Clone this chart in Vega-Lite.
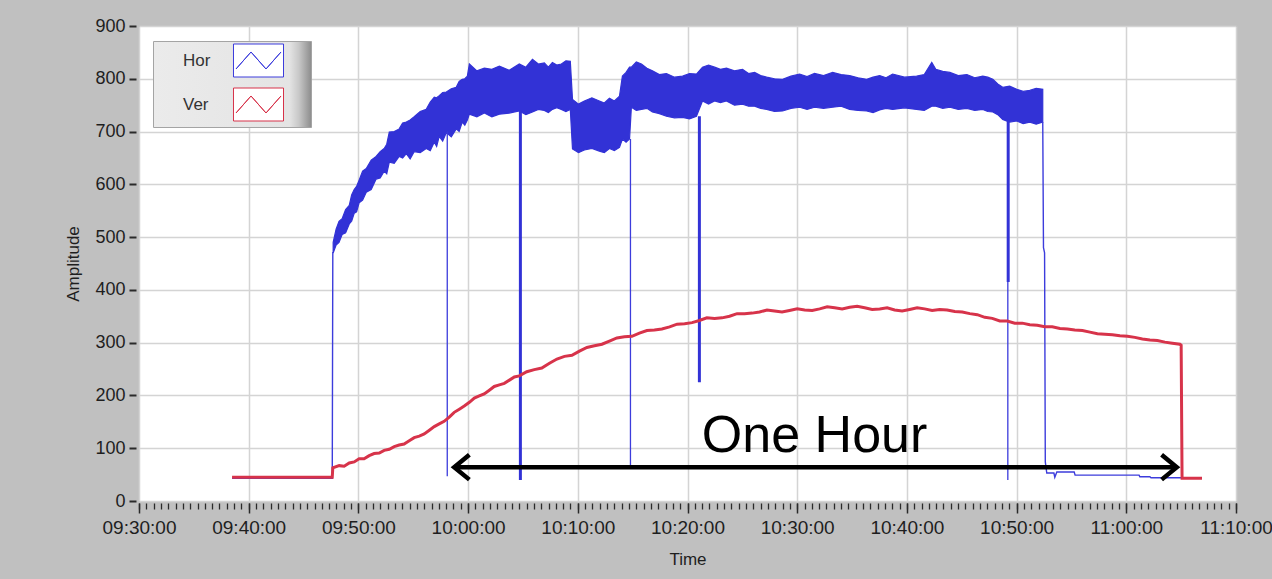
{
  "$schema": "https://vega.github.io/schema/vega-lite/v6.json",
  "width": 1097,
  "height": 475,
  "autosize": "none",
  "padding": {"left": 139, "top": 26, "right": 36, "bottom": 78},
  "background": "#c0c0c0",
  "config": {
    "font": "Liberation Sans",
    "view": {"fill": "white", "stroke": "#8a8a8a", "strokeWidth": 1},
    "axis": {
      "labelFont": "Liberation Sans",
      "titleFont": "Liberation Sans",
      "labelColor": "#1e1e1e",
      "titleColor": "#1e1e1e",
      "tickColor": "#2a2a2a",
      "titleFontWeight": "normal",
      "gridColor": "#d4d4d4",
      "gridWidth": 1.5,
      "domain": false
    },
    "legend": {"labelFont": "Liberation Sans"}
  },
  "resolve": {"axis": {"x": "independent"}},
  "layer": [
    {
      "data": {
        "values": [
          {"t": "09:47:42", "lo": 470, "hi": 490},
          {"t": "09:47:58", "lo": 485, "hi": 515},
          {"t": "09:48:14", "lo": 490, "hi": 530},
          {"t": "09:48:31", "lo": 505, "hi": 535},
          {"t": "09:48:50", "lo": 508, "hi": 552},
          {"t": "09:49:10", "lo": 525, "hi": 560},
          {"t": "09:49:23", "lo": 530, "hi": 580},
          {"t": "09:49:37", "lo": 545, "hi": 590},
          {"t": "09:49:50", "lo": 548, "hi": 596},
          {"t": "09:50:04", "lo": 565, "hi": 608},
          {"t": "09:50:23", "lo": 570, "hi": 625},
          {"t": "09:50:43", "lo": 585, "hi": 630},
          {"t": "09:51:10", "lo": 590, "hi": 646},
          {"t": "09:51:37", "lo": 610, "hi": 653},
          {"t": "09:51:59", "lo": 612, "hi": 662},
          {"t": "09:52:21", "lo": 625, "hi": 668},
          {"t": "09:52:35", "lo": 620, "hi": 676},
          {"t": "09:52:49", "lo": 642, "hi": 699},
          {"t": "09:53:16", "lo": 640, "hi": 700},
          {"t": "09:53:43", "lo": 653, "hi": 705},
          {"t": "09:54:02", "lo": 650, "hi": 716},
          {"t": "09:54:22", "lo": 658, "hi": 718},
          {"t": "09:54:43", "lo": 648, "hi": 722},
          {"t": "09:55:05", "lo": 662, "hi": 728},
          {"t": "09:55:38", "lo": 660, "hi": 738},
          {"t": "09:56:11", "lo": 668, "hi": 742},
          {"t": "09:56:33", "lo": 664, "hi": 756},
          {"t": "09:56:55", "lo": 680, "hi": 765},
          {"t": "09:57:08", "lo": 672, "hi": 764},
          {"t": "09:57:22", "lo": 691, "hi": 768},
          {"t": "09:57:41", "lo": 682, "hi": 774},
          {"t": "09:58:01", "lo": 698, "hi": 775},
          {"t": "09:58:28", "lo": 690, "hi": 781},
          {"t": "09:58:55", "lo": 705, "hi": 784},
          {"t": "09:59:11", "lo": 700, "hi": 795},
          {"t": "09:59:28", "lo": 718, "hi": 799},
          {"t": "09:59:42", "lo": 712, "hi": 800},
          {"t": "09:59:56", "lo": 722, "hi": 805},
          {"t": "10:00:07", "lo": 733, "hi": 828},
          {"t": "10:00:48", "lo": 728, "hi": 815},
          {"t": "10:01:29", "lo": 735, "hi": 820},
          {"t": "10:02:10", "lo": 728, "hi": 818},
          {"t": "10:02:51", "lo": 733, "hi": 824},
          {"t": "10:03:45", "lo": 735, "hi": 816},
          {"t": "10:04:40", "lo": 739, "hi": 828},
          {"t": "10:05:16", "lo": 732, "hi": 822},
          {"t": "10:05:52", "lo": 737, "hi": 837},
          {"t": "10:06:24", "lo": 742, "hi": 828},
          {"t": "10:06:57", "lo": 740, "hi": 830},
          {"t": "10:07:19", "lo": 736, "hi": 822},
          {"t": "10:07:41", "lo": 742, "hi": 831},
          {"t": "10:08:05", "lo": 745, "hi": 826},
          {"t": "10:08:30", "lo": 742, "hi": 828},
          {"t": "10:08:55", "lo": 738, "hi": 834},
          {"t": "10:09:19", "lo": 742, "hi": 833},
          {"t": "10:09:31", "lo": 667, "hi": 761},
          {"t": "10:10:04", "lo": 660, "hi": 752},
          {"t": "10:10:36", "lo": 665, "hi": 758},
          {"t": "10:11:17", "lo": 668, "hi": 764},
          {"t": "10:11:58", "lo": 663, "hi": 758},
          {"t": "10:12:25", "lo": 660, "hi": 754},
          {"t": "10:12:53", "lo": 668, "hi": 763},
          {"t": "10:13:20", "lo": 664, "hi": 758},
          {"t": "10:13:48", "lo": 670, "hi": 767},
          {"t": "10:14:04", "lo": 686, "hi": 805},
          {"t": "10:14:24", "lo": 680, "hi": 812},
          {"t": "10:14:43", "lo": 686, "hi": 822},
          {"t": "10:14:53", "lo": 746, "hi": 822},
          {"t": "10:15:20", "lo": 740, "hi": 832},
          {"t": "10:15:48", "lo": 742, "hi": 828},
          {"t": "10:16:18", "lo": 744, "hi": 820},
          {"t": "10:16:48", "lo": 737, "hi": 815},
          {"t": "10:17:26", "lo": 734, "hi": 808},
          {"t": "10:18:05", "lo": 729, "hi": 810},
          {"t": "10:18:49", "lo": 726, "hi": 803},
          {"t": "10:19:33", "lo": 727, "hi": 805},
          {"t": "10:20:11", "lo": 724, "hi": 810},
          {"t": "10:20:49", "lo": 729, "hi": 809},
          {"t": "10:21:22", "lo": 758, "hi": 822},
          {"t": "10:21:55", "lo": 752, "hi": 826},
          {"t": "10:22:28", "lo": 758, "hi": 822},
          {"t": "10:23:00", "lo": 755, "hi": 818},
          {"t": "10:23:33", "lo": 758, "hi": 820},
          {"t": "10:24:17", "lo": 750, "hi": 815},
          {"t": "10:25:01", "lo": 752, "hi": 818},
          {"t": "10:25:34", "lo": 748, "hi": 810},
          {"t": "10:26:07", "lo": 748, "hi": 812},
          {"t": "10:26:40", "lo": 744, "hi": 806},
          {"t": "10:27:13", "lo": 742, "hi": 803},
          {"t": "10:27:56", "lo": 738, "hi": 800},
          {"t": "10:28:40", "lo": 739, "hi": 799},
          {"t": "10:29:26", "lo": 744, "hi": 805},
          {"t": "10:30:13", "lo": 746, "hi": 809},
          {"t": "10:30:54", "lo": 742, "hi": 804},
          {"t": "10:31:35", "lo": 746, "hi": 810},
          {"t": "10:32:24", "lo": 744, "hi": 806},
          {"t": "10:33:14", "lo": 746, "hi": 812},
          {"t": "10:34:00", "lo": 748, "hi": 808},
          {"t": "10:34:47", "lo": 742, "hi": 806},
          {"t": "10:35:33", "lo": 740, "hi": 802},
          {"t": "10:36:20", "lo": 739, "hi": 799},
          {"t": "10:36:55", "lo": 736, "hi": 803},
          {"t": "10:37:31", "lo": 741, "hi": 806},
          {"t": "10:38:06", "lo": 744, "hi": 802},
          {"t": "10:38:42", "lo": 742, "hi": 809},
          {"t": "10:39:47", "lo": 745, "hi": 803},
          {"t": "10:40:53", "lo": 742, "hi": 805},
          {"t": "10:41:35", "lo": 740, "hi": 808},
          {"t": "10:42:16", "lo": 748, "hi": 831},
          {"t": "10:42:38", "lo": 748, "hi": 818},
          {"t": "10:43:16", "lo": 744, "hi": 814},
          {"t": "10:43:55", "lo": 746, "hi": 812},
          {"t": "10:44:41", "lo": 742, "hi": 806},
          {"t": "10:45:28", "lo": 744, "hi": 808},
          {"t": "10:46:11", "lo": 740, "hi": 802},
          {"t": "10:46:55", "lo": 742, "hi": 805},
          {"t": "10:47:22", "lo": 738, "hi": 803},
          {"t": "10:47:50", "lo": 737, "hi": 799},
          {"t": "10:48:17", "lo": 732, "hi": 790},
          {"t": "10:48:44", "lo": 723, "hi": 784},
          {"t": "10:49:22", "lo": 718, "hi": 786},
          {"t": "10:50:01", "lo": 720, "hi": 780},
          {"t": "10:50:36", "lo": 715, "hi": 776},
          {"t": "10:51:12", "lo": 718, "hi": 778},
          {"t": "10:51:47", "lo": 714, "hi": 782},
          {"t": "10:52:23", "lo": 718, "hi": 780}
        ],
        "format": {"parse": {"t": "utc:'%H:%M:%S'"}}
      },
      "mark": {"type": "area", "color": "#3232d6", "stroke": "#3232d6", "strokeWidth": 1.2},
      "encoding": {
        "x": {
          "field": "t", "type": "temporal",
          "scale": {"type": "utc", "domain": [-2208954600000, -2208948600000], "nice": false},
          "axis": {
            "orient": "bottom",
            "values": [-2208954600000, -2208954000000, -2208953400000, -2208952800000, -2208952200000, -2208951600000, -2208951000000, -2208950400000, -2208949800000, -2208949200000, -2208948600000],
            "format": "%H:%M:%S",
            "grid": true,
            "offset": 2,
            "tickSize": 10,
            "tickWidth": 1.5,
            "labelFontSize": 19,
            "labelPadding": 5,
            "labelFlush": false,
            "labelOverlap": false,
            "title": "Time",
            "titleFontSize": 17,
            "titlePadding": 14
          }
        },
        "y": {
          "field": "lo", "type": "quantitative",
          "scale": {"domain": [0, 900], "nice": false},
          "axis": {
            "values": [0, 100, 200, 300, 400, 500, 600, 700, 800, 900],
            "grid": true,
            "offset": 3,
            "tickSize": 7,
            "tickWidth": 2,
            "labelFontSize": 18,
            "labelPadding": 4,
            "labelFlush": false,
            "title": "Amplitude",
            "titleFontSize": 17,
            "titlePadding": 12
          }
        },
        "y2": {"field": "hi"}
      }
    },
    {
      "data": {
        "values": [
          {"t": "09:58:06", "from": 700, "to": 47},
          {"t": "10:14:48", "from": 686, "to": 66},
          {"t": "10:49:12", "from": 720, "to": 40}
        ],
        "format": {"parse": {"t": "utc:'%H:%M:%S'"}}
      },
      "mark": {"type": "rule", "color": "#3c3cdc", "strokeWidth": 1.3},
      "encoding": {
        "x": {"field": "t", "type": "temporal", "axis": null},
        "y": {"field": "from", "type": "quantitative"},
        "y2": {"field": "to"}
      }
    },
    {
      "data": {
        "values": [
          {"t": "10:04:46", "from": 740, "to": 40},
          {"t": "10:21:05", "from": 729, "to": 225},
          {"t": "10:49:14", "from": 720, "to": 415}
        ],
        "format": {"parse": {"t": "utc:'%H:%M:%S'"}}
      },
      "mark": {"type": "rule", "color": "#3232d6", "strokeWidth": 3},
      "encoding": {
        "x": {"field": "t", "type": "temporal", "axis": null},
        "y": {"field": "from", "type": "quantitative"},
        "y2": {"field": "to"}
      }
    },
    {
      "data": {
        "values": [
          {"seg": "a", "t": "09:38:29", "v": 43},
          {"seg": "a", "t": "09:47:37", "v": 43},
          {"seg": "a", "t": "09:47:40", "v": 472},
          {"seg": "b", "t": "10:52:23", "v": 718},
          {"seg": "b", "t": "10:52:27", "v": 480},
          {"seg": "b", "t": "10:52:33", "v": 470},
          {"seg": "b", "t": "10:52:37", "v": 74},
          {"seg": "b", "t": "10:52:45", "v": 53},
          {"seg": "b", "t": "10:53:24", "v": 53},
          {"seg": "b", "t": "10:53:29", "v": 45},
          {"seg": "b", "t": "10:53:40", "v": 55},
          {"seg": "b", "t": "10:55:15", "v": 55},
          {"seg": "b", "t": "10:55:20", "v": 49},
          {"seg": "b", "t": "11:01:10", "v": 49},
          {"seg": "b", "t": "11:01:14", "v": 46},
          {"seg": "b", "t": "11:02:09", "v": 46},
          {"seg": "b", "t": "11:02:15", "v": 44},
          {"seg": "b", "t": "11:06:54", "v": 44}
        ],
        "format": {"parse": {"t": "utc:'%H:%M:%S'"}}
      },
      "mark": {"type": "line", "strokeWidth": 1.4},
      "encoding": {
        "x": {"field": "t", "type": "temporal", "axis": null},
        "y": {"field": "v", "type": "quantitative"},
        "detail": {"field": "seg"},
        "stroke": {
          "datum": "Hor", "type": "nominal",
          "scale": {"domain": ["Hor", "Ver"], "range": ["#3c3cdc", "#d7334a"]},
          "legend": {
            "orient": "none",
            "legendX": 14,
            "legendY": 15,
            "title": null,
            "padding": 4,
            "fillColor": "#e6e6e6",
            "strokeColor": "#a4a4a4",
            "labelFontSize": 17,
            "labelColor": "#333333",
            "symbolType": "M -1.667 -1.1 L 1.667 -1.1 L 1.667 1.1 L -1.667 1.1 Z M -1.5 0.567 L -0.5 -0.567 L 0.5 0.567 L 1.5 -0.567 L 0.5 0.567 L -0.5 -0.567 Z M 3.05 0",
            "symbolSize": 900,
            "symbolStrokeWidth": 1,
            "symbolFillColor": "white",
            "labelOffset": -91,
            "symbolOffset": 86,
            "rowPadding": 7,
            "encode": {
              "symbols": {
                "update": {
                  "fill": {"value": "white"},
                  "fillOpacity": {"value": 1},
                  "strokeWidth": {"value": 1}
                }
              },
              "legend": {
                "update": {
                  "fill": {"value": {"gradient": "linear", "x1": 0, "y1": 0, "x2": 1, "y2": 0, "stops": [{"offset": 0, "color": "#ebebeb"}, {"offset": 0.86, "color": "#e4e4e4"}, {"offset": 0.92, "color": "#c8c8c8"}, {"offset": 1, "color": "#8c8c8c"}]}}
                }
              }
            }
          }
        }
      }
    },
    {
      "data": {
        "values": [
          {"t": "09:38:29", "v": 45},
          {"t": "09:47:37", "v": 45},
          {"t": "09:47:40", "v": 63},
          {"t": "09:48:15", "v": 67},
          {"t": "09:48:42", "v": 66},
          {"t": "09:49:10", "v": 72},
          {"t": "09:49:37", "v": 74},
          {"t": "09:50:04", "v": 80},
          {"t": "09:50:31", "v": 80},
          {"t": "09:50:59", "v": 86},
          {"t": "09:51:26", "v": 90},
          {"t": "09:51:54", "v": 91},
          {"t": "09:52:21", "v": 96},
          {"t": "09:52:49", "v": 98},
          {"t": "09:53:16", "v": 103},
          {"t": "09:53:43", "v": 106},
          {"t": "09:54:10", "v": 108},
          {"t": "09:54:38", "v": 114},
          {"t": "09:55:05", "v": 120},
          {"t": "09:55:33", "v": 123},
          {"t": "09:56:00", "v": 127},
          {"t": "09:56:28", "v": 134},
          {"t": "09:56:55", "v": 141},
          {"t": "09:57:22", "v": 146},
          {"t": "09:57:49", "v": 151},
          {"t": "09:58:17", "v": 159},
          {"t": "09:58:44", "v": 168},
          {"t": "09:59:12", "v": 174},
          {"t": "09:59:39", "v": 180},
          {"t": "10:00:07", "v": 187},
          {"t": "10:00:34", "v": 195},
          {"t": "10:01:01", "v": 199},
          {"t": "10:01:28", "v": 203},
          {"t": "10:01:56", "v": 210},
          {"t": "10:02:23", "v": 217},
          {"t": "10:02:51", "v": 220},
          {"t": "10:03:18", "v": 223},
          {"t": "10:03:46", "v": 229},
          {"t": "10:04:13", "v": 235},
          {"t": "10:04:40", "v": 237},
          {"t": "10:05:21", "v": 245},
          {"t": "10:06:02", "v": 249},
          {"t": "10:06:43", "v": 252},
          {"t": "10:07:25", "v": 261},
          {"t": "10:08:06", "v": 269},
          {"t": "10:08:47", "v": 274},
          {"t": "10:09:28", "v": 276},
          {"t": "10:10:09", "v": 284},
          {"t": "10:10:50", "v": 291},
          {"t": "10:11:31", "v": 294},
          {"t": "10:12:12", "v": 297},
          {"t": "10:12:53", "v": 303},
          {"t": "10:13:34", "v": 309},
          {"t": "10:14:15", "v": 311},
          {"t": "10:14:56", "v": 312},
          {"t": "10:15:37", "v": 318},
          {"t": "10:16:18", "v": 323},
          {"t": "10:16:59", "v": 324},
          {"t": "10:17:40", "v": 326},
          {"t": "10:18:22", "v": 330},
          {"t": "10:19:03", "v": 335},
          {"t": "10:19:44", "v": 336},
          {"t": "10:20:25", "v": 338},
          {"t": "10:21:05", "v": 342},
          {"t": "10:21:46", "v": 347},
          {"t": "10:22:28", "v": 346},
          {"t": "10:23:09", "v": 347},
          {"t": "10:23:50", "v": 350},
          {"t": "10:24:31", "v": 355},
          {"t": "10:25:12", "v": 355},
          {"t": "10:25:53", "v": 356},
          {"t": "10:26:34", "v": 358},
          {"t": "10:27:15", "v": 362},
          {"t": "10:27:56", "v": 360},
          {"t": "10:28:37", "v": 358},
          {"t": "10:29:18", "v": 361},
          {"t": "10:30:00", "v": 364},
          {"t": "10:30:41", "v": 362},
          {"t": "10:31:22", "v": 361},
          {"t": "10:32:03", "v": 364},
          {"t": "10:32:44", "v": 368},
          {"t": "10:33:25", "v": 366},
          {"t": "10:34:06", "v": 364},
          {"t": "10:34:47", "v": 367},
          {"t": "10:35:28", "v": 369},
          {"t": "10:36:09", "v": 366},
          {"t": "10:36:50", "v": 363},
          {"t": "10:37:31", "v": 364},
          {"t": "10:38:12", "v": 366},
          {"t": "10:38:53", "v": 362},
          {"t": "10:39:34", "v": 360},
          {"t": "10:40:15", "v": 363},
          {"t": "10:40:56", "v": 366},
          {"t": "10:41:37", "v": 364},
          {"t": "10:42:18", "v": 361},
          {"t": "10:42:59", "v": 363},
          {"t": "10:43:40", "v": 362},
          {"t": "10:44:22", "v": 359},
          {"t": "10:45:03", "v": 358},
          {"t": "10:45:44", "v": 355},
          {"t": "10:46:25", "v": 353},
          {"t": "10:47:06", "v": 348},
          {"t": "10:47:47", "v": 346},
          {"t": "10:48:28", "v": 341},
          {"t": "10:49:09", "v": 341},
          {"t": "10:49:50", "v": 337},
          {"t": "10:50:31", "v": 337},
          {"t": "10:51:12", "v": 334},
          {"t": "10:51:53", "v": 333},
          {"t": "10:52:34", "v": 330},
          {"t": "10:53:15", "v": 330},
          {"t": "10:53:57", "v": 327},
          {"t": "10:54:38", "v": 326},
          {"t": "10:55:18", "v": 324},
          {"t": "10:56:00", "v": 323},
          {"t": "10:56:41", "v": 320},
          {"t": "10:57:22", "v": 317},
          {"t": "10:58:03", "v": 316},
          {"t": "10:58:44", "v": 315},
          {"t": "10:59:25", "v": 313},
          {"t": "11:00:06", "v": 312},
          {"t": "11:00:47", "v": 310},
          {"t": "11:01:28", "v": 307},
          {"t": "11:02:09", "v": 305},
          {"t": "11:02:50", "v": 304},
          {"t": "11:03:31", "v": 301},
          {"t": "11:04:12", "v": 299},
          {"t": "11:04:53", "v": 297},
          {"t": "11:05:00", "v": 295},
          {"t": "11:05:05", "v": 43},
          {"t": "11:06:54", "v": 43}
        ],
        "format": {"parse": {"t": "utc:'%H:%M:%S'"}}
      },
      "mark": {"type": "line", "strokeWidth": 3},
      "encoding": {
        "x": {"field": "t", "type": "temporal", "axis": null},
        "y": {"field": "v", "type": "quantitative"},
        "stroke": {"datum": "Ver", "type": "nominal"}
      }
    },
    {
      "data": {
        "values": [{"t1": "09:58:44", "t2": "11:04:36", "v": 64}],
        "format": {"parse": {"t1": "utc:'%H:%M:%S'", "t2": "utc:'%H:%M:%S'"}}
      },
      "mark": {"type": "rule", "color": "black", "strokeWidth": 4.5},
      "encoding": {
        "x": {"field": "t1", "type": "temporal", "axis": null},
        "x2": {"field": "t2"},
        "y": {"field": "v", "type": "quantitative"}
      }
    },
    {
      "data": {
        "values": [
          {"t": "09:58:44", "v": 64, "end": "left"},
          {"t": "11:04:36", "v": 64, "end": "right"}
        ],
        "format": {"parse": {"t": "utc:'%H:%M:%S'"}}
      },
      "mark": {"type": "point", "filled": false, "color": "black", "strokeWidth": 4.5, "opacity": 1, "size": 760, "strokeJoin": "miter"},
      "encoding": {
        "x": {"field": "t", "type": "temporal", "axis": null},
        "y": {"field": "v", "type": "quantitative"},
        "shape": {
          "field": "end", "type": "nominal",
          "scale": {"domain": ["left", "right"], "range": ["M 1.1 -0.9 L 0 0 L 1.1 0.9", "M -1.1 -0.9 L 0 0 L -1.1 0.9"]},
          "legend": null
        }
      }
    },
    {
      "data": {
        "values": [{"t": "10:31:35", "v": 93, "label": "One Hour"}],
        "format": {"parse": {"t": "utc:'%H:%M:%S'"}}
      },
      "mark": {"type": "text", "fontSize": 52, "font": "Liberation Sans", "color": "black", "align": "center", "baseline": "alphabetic"},
      "encoding": {
        "x": {
          "field": "t", "type": "temporal",
          "axis": {
            "orient": "bottom",
            "values": [-2208954600000, -2208954560000, -2208954520000, -2208954480000, -2208954440000, -2208954400000, -2208954360000, -2208954320000, -2208954280000, -2208954240000, -2208954200000, -2208954160000, -2208954120000, -2208954080000, -2208954040000,
              -2208954000000, -2208953960000, -2208953920000, -2208953880000, -2208953840000, -2208953800000, -2208953760000, -2208953720000, -2208953680000, -2208953640000, -2208953600000, -2208953560000, -2208953520000, -2208953480000, -2208953440000,
              -2208953400000, -2208953360000, -2208953320000, -2208953280000, -2208953240000, -2208953200000, -2208953160000, -2208953120000, -2208953080000, -2208953040000, -2208953000000, -2208952960000, -2208952920000, -2208952880000, -2208952840000,
              -2208952800000, -2208952760000, -2208952720000, -2208952680000, -2208952640000, -2208952600000, -2208952560000, -2208952520000, -2208952480000, -2208952440000, -2208952400000, -2208952360000, -2208952320000, -2208952280000, -2208952240000,
              -2208952200000, -2208952160000, -2208952120000, -2208952080000, -2208952040000, -2208952000000, -2208951960000, -2208951920000, -2208951880000, -2208951840000, -2208951800000, -2208951760000, -2208951720000, -2208951680000, -2208951640000,
              -2208951600000, -2208951560000, -2208951520000, -2208951480000, -2208951440000, -2208951400000, -2208951360000, -2208951320000, -2208951280000, -2208951240000, -2208951200000, -2208951160000, -2208951120000, -2208951080000, -2208951040000,
              -2208951000000, -2208950960000, -2208950920000, -2208950880000, -2208950840000, -2208950800000, -2208950760000, -2208950720000, -2208950680000, -2208950640000, -2208950600000, -2208950560000, -2208950520000, -2208950480000, -2208950440000,
              -2208950400000, -2208950360000, -2208950320000, -2208950280000, -2208950240000, -2208950200000, -2208950160000, -2208950120000, -2208950080000, -2208950040000, -2208950000000, -2208949960000, -2208949920000, -2208949880000, -2208949840000,
              -2208949800000, -2208949760000, -2208949720000, -2208949680000, -2208949640000, -2208949600000, -2208949560000, -2208949520000, -2208949480000, -2208949440000, -2208949400000, -2208949360000, -2208949320000, -2208949280000, -2208949240000,
              -2208949200000, -2208949160000, -2208949120000, -2208949080000, -2208949040000, -2208949000000, -2208948960000, -2208948920000, -2208948880000, -2208948840000, -2208948800000, -2208948760000, -2208948720000, -2208948680000, -2208948640000,
              -2208948600000],
            "labels": false,
            "grid": false,
            "offset": 2,
            "tickSize": 6,
            "tickWidth": 1.3,
            "title": null
          }
        },
        "y": {"field": "v", "type": "quantitative"},
        "text": {"field": "label"}
      }
    }
  ]
}
